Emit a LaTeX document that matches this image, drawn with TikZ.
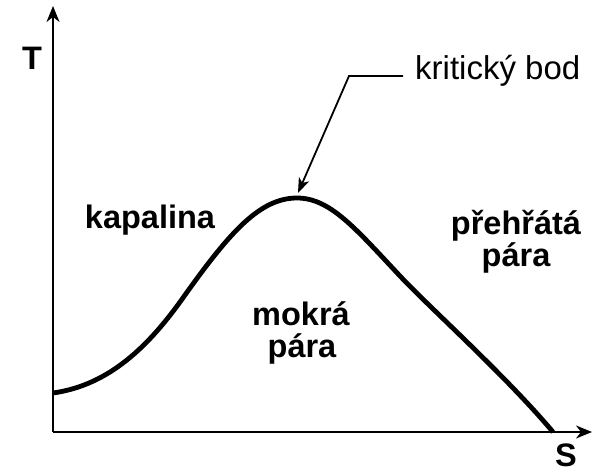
\documentclass[tikz,border=0pt]{standalone}
\usepackage{fontspec}
\setmainfont{Liberation Sans}
\usetikzlibrary{arrows.meta}
\begin{document}
\begin{tikzpicture}[x=1pt,y=-1pt,
  axis/.style={line width=1.6pt,-{Stealth[length=16pt,width=13pt,inset=5pt]}},
  callout/.style={line width=1.8pt,-{Stealth[length=15pt,width=11pt,inset=4pt]}},
  curvestyle/.style={line width=4.8pt,line join=round},
  lbl/.style={font=\fontsize{32.5}{34}\selectfont\bfseries,anchor=base,inner sep=0pt},
  note/.style={font=\fontsize{33}{35}\selectfont,anchor=base west,inner sep=0pt}]
\useasboundingbox (0,0) rectangle (592,473);
% axes
\coordinate (O) at (53,432);
\coordinate (ytop) at (53,6);
\coordinate (xend) at (592,432);
\draw[axis] (O) -- (ytop);
\draw[axis] (O) -- (xend);
\node[lbl] (T) at (32,70) {T};
\node[lbl] (S) at (566,466) {S};
% saturation curve
\coordinate (c0) at (53,393);
\coordinate (c1) at (185,295);
\coordinate (peak) at (297,198);
\coordinate (c3) at (400,276);
\coordinate (c4) at (553,432);
\draw[curvestyle] (c0) .. controls (110,385) and (150,345) .. (c1)
  .. controls (230,232) and (260,198) .. (peak)
  .. controls (330,198) and (355,228) .. (c3)
  .. controls (430,308) and (505,375) .. (c4);
\coordinate (tip) at (298,193);
% labels
\node[lbl] (kap) at (150,229) {kapalina};
\node[lbl] (mok1) at (301,325) {mokrá};
\node[lbl] (mok2) at (302,357) {pára};
\node[lbl] (pre1) at (516,235) {přehřátá};
\node[lbl] (pre2) at (516,267) {pára};
\node[note] (kb) at (415,80) {kritický bod};
\coordinate (bend) at (349,76);
\draw[callout] (kb.west |- bend) ++(-12,0) -- (bend) -- (tip);
\end{tikzpicture}
\end{document}
